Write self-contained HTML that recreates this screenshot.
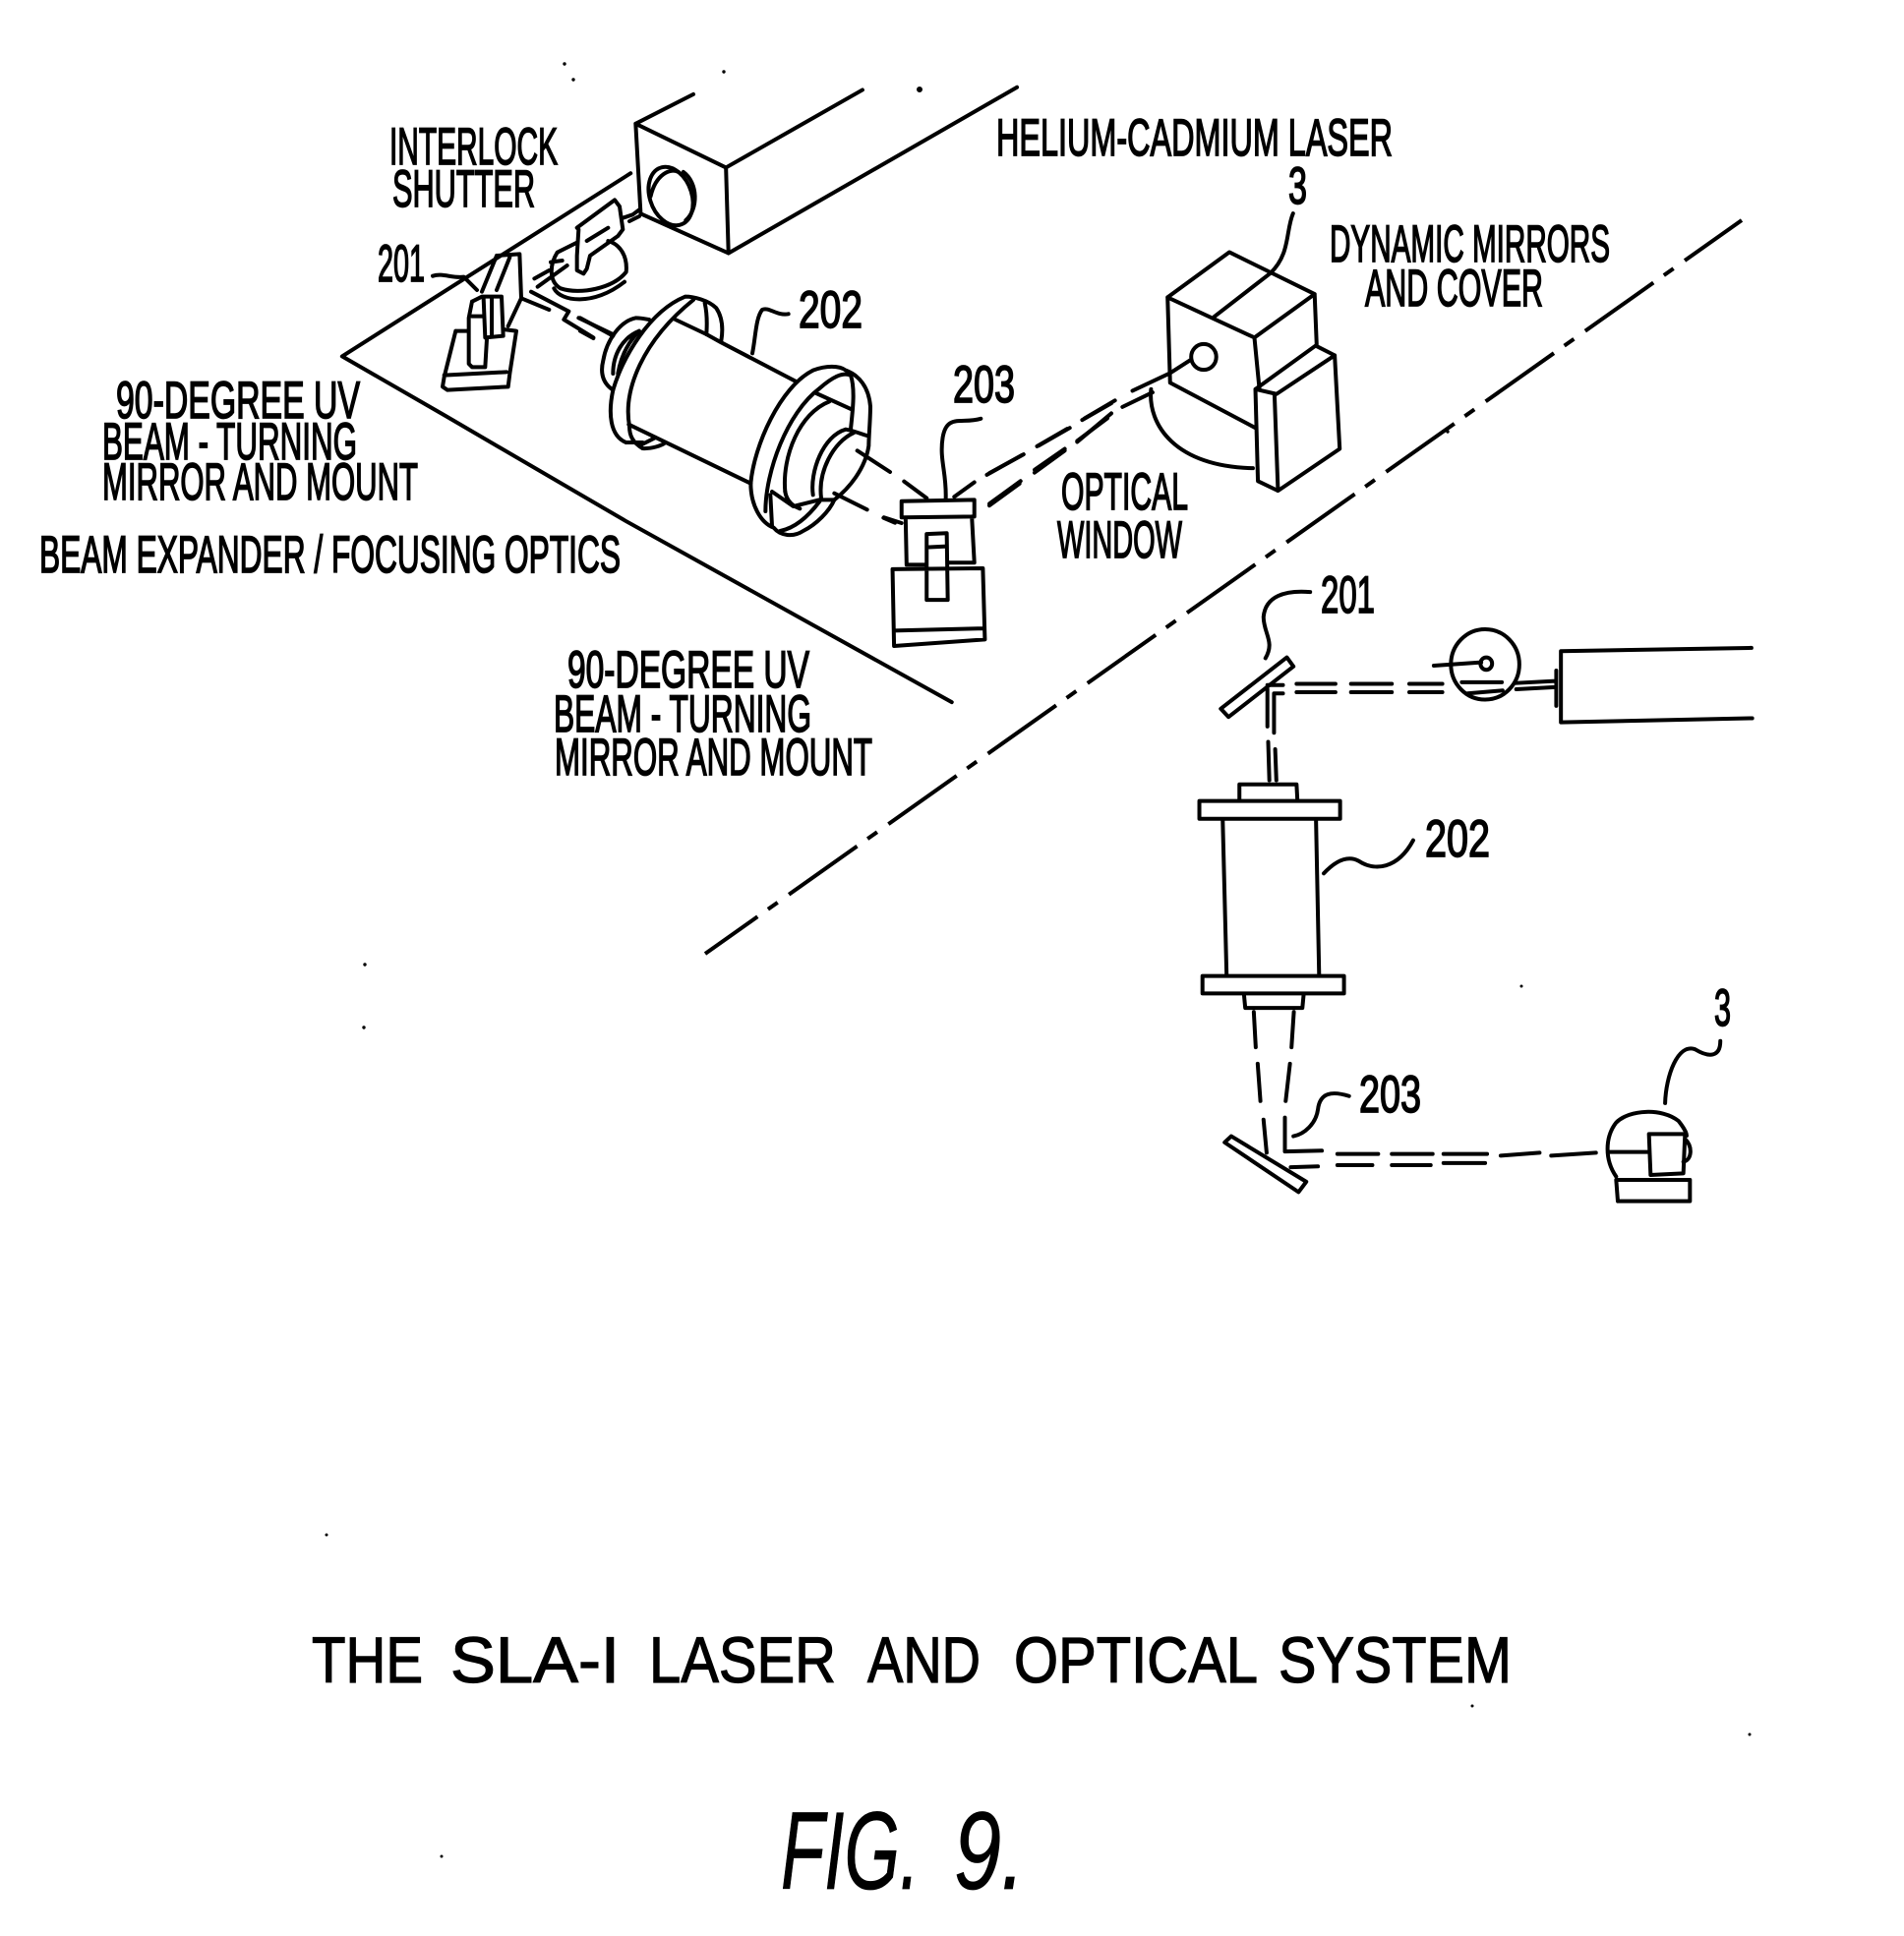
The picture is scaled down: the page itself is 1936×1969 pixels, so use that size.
<!DOCTYPE html>
<html><head><meta charset="utf-8"><style>
html,body{margin:0;padding:0;background:#fff}
svg{display:block}
path,ellipse,circle{fill:none;stroke:#000;stroke-width:4;stroke-linejoin:round;stroke-linecap:round;vector-effect:non-scaling-stroke}
text{font-family:"Liberation Sans",sans-serif;fill:#000;stroke:#000;stroke-width:1.7}
.s{font-size:53px}
.t{font-size:66px;stroke-width:1.2}
.f{font-size:112px;font-style:italic;stroke-width:.8}
.d circle{fill:#000;stroke-width:1}
</style></head><body>
<svg width="1936" height="1969" viewBox="0 0 1936 1969" xmlns="http://www.w3.org/2000/svg">
<g transform="translate(330,70) scale(.5102,.4464)">
<path d="M610 238L35 655L240 790L600 1030L1250 1443"/>
<path d="M735 58L620 125L800 225L805 420L630 330L620 125M800 225L1072 48M805 420L1380 42"/>
<ellipse cx="690" cy="290" rx="42" ry="68" transform="rotate(-15 690 290)"/>
<path d="M650 290C660 240 690 225 705 235M720 345C745 320 745 260 715 235"/>
<path d="M1065 875L1125 915M1155 940L1200 978M1015 970L1080 1005M1115 1022L1150 1035M1255 975L1295 942" style="display:none"/>
<path d="M1308 797C1270 810 1240 785 1232 840C1225 890 1240 920 1238 980"/>
<path d="M1150 985L1295 982L1295 1020L1150 1022ZM1158 1022L1160 1130M1290 1020L1295 1125M1132 1140L1312 1138L1316 1300L1135 1315ZM1135 1280L1312 1275M1200 1060L1240 1058L1242 1210L1200 1210ZM1200 1090L1240 1088M1160 1130L1200 1130M1245 1125L1295 1125"/>
<path d="M1155 940L1200 978M1115 1022L1150 1035M1255 975L1295 942M1320 925L1390 880M1420 860L1480 820M1510 800L1568 762M1325 995L1385 945M1415 920L1475 870M1500 850L1568 785"/>
</g>
<g transform="translate(590,280) scale(.33333)">
<path d="M290 135L385 180L430 205L660 325M148 455L520 635"/>
<path d="M100 350C85 420 90 490 140 510M100 350C130 250 210 110 320 65C345 65 390 75 415 100C435 130 435 170 430 200M150 460C130 350 190 200 345 75M380 85C390 130 385 170 385 180"/>
<path d="M100 350C70 330 60 300 70 260C80 200 120 140 170 130C190 130 205 135 210 135M100 300C100 240 130 190 180 170M115 300C125 240 150 200 180 170"/>
<path d="M150 460C150 490 160 510 190 528C215 530 250 520 260 510M140 510H190M190 515L230 495"/>
<path d="M0 130L100 185M0 170L40 192"/>
<path d="M520 635C530 520 610 340 710 290C750 275 790 275 810 290C850 305 880 340 885 400C885 440 880 490 880 520C870 590 820 650 775 685M520 635C520 700 550 755 590 770C610 795 650 800 680 780C720 760 760 720 775 685"/>
<path d="M565 720C565 600 630 420 730 345C770 310 800 295 825 305M625 660C615 550 670 420 760 385M720 360L830 410M825 305C840 350 830 420 825 470"/>
<path d="M710 670C700 600 740 490 810 470C840 475 870 490 880 490M735 680C725 600 770 510 835 480M585 660L650 705L730 685L775 685M625 660C630 690 650 705 670 712M580 670L585 765M610 780C660 770 700 730 730 690"/>
<path d="M845 535L945 600M775 665L875 715M925 740L960 755M635 118C600 125 575 95 555 105C535 130 535 190 525 238"/>
</g>
<g transform="translate(430,190) scale(.33333)">
<path d="M30 272C60 262 90 280 125 275L165 315"/>
<path d="M225 210L295 205L300 340L260 425M225 210L180 320M265 215L225 315M300 340L385 375"/>
<path d="M150 350L180 335H240L245 455L190 460L185 340M210 340V450M150 350L140 400V540L150 550H190L195 465M150 395H180"/>
<path d="M100 440H135M100 440L65 580L60 610L75 620L260 610L265 570L285 440L245 435M65 575L255 565"/>
<path d="M470 125L585 40L600 60L610 130L595 150L510 210L500 250L490 265L470 255V210L475 130ZM500 165L565 125M470 170L410 200C385 240 385 290 420 310C480 330 580 310 620 260C625 210 600 175 565 165M400 310C420 350 520 365 615 290M340 280L385 255M350 305L440 240M390 230L425 225M610 95L640 85L660 70M630 105L660 90"/>
<path d="M330 320L445 380L430 405L520 460M475 400L580 450"/>
</g>
<g transform="translate(1001,104) scale(.5102,.3279)">
<path d="M365 605L488 465L658 595L538 730ZM570 530L458 665M615 345C600 400 610 470 570 530M365 605L370 870L540 1010M538 730L548 890M658 595L662 750"/>
<path d="M540 890L660 755L698 785L582 905ZM698 785L708 1075L585 1205L545 1175L540 890M578 905L585 1205"/>
<ellipse cx="437" cy="790" rx="25" ry="40"/>
<path d="M332 890C325 1000 380 1130 535 1135M370 840L410 800M295 895L370 840M200 980L260 925M108 1065L170 1010M10 1150L78 1092M335 900L275 945M245 980L185 1050M160 1075L100 1140M72 1175L10 1245"/>
</g>
<path d="M1771 224L717 970" stroke-dasharray="85 14 12 13" stroke-dashoffset="14" style="stroke-linecap:butt"/>
<g transform="translate(1180,560) scale(.3953,.4209)">
<path d="M155 382L325 258L342 280L175 402ZM385 100C320 95 270 110 265 160C265 200 295 220 270 260"/>
<path d="M350 322H450M350 342H450M490 322H595M490 342H595M640 322H725M640 342H725M275 325H315M292 345H315M275 335V425M292 345V440M277 462L280 555M295 480L298 555"/>
<ellipse cx="835" cy="275" rx="88" ry="85"/><circle cx="838" cy="273" r="15"/>
<path d="M703 278L825 270M775 318H878M790 345L880 338M915 320L1015 315M915 335L1015 330M1520 235L1030 243L1030 415L1522 405M1018 290V375"/>
<path d="M203 600V565H350L352 600M100 605H462V648H100ZM160 650L170 1025M400 650L408 1025M108 1028H472V1070H108ZM215 1075L218 1105H365L368 1075M240 1115L245 1200M343 1115L337 1200M250 1240L257 1330M333 1240L322 1330M265 1375L273 1455M320 1370V1452L415 1450M335 1490L405 1488"/>
<path d="M455 1458H560M595 1458H700M728 1458H840M875 1462L975 1455M1005 1462L1120 1455M455 1485H545M595 1485H695M728 1480H835"/>
<path d="M165 1430L182 1415L375 1525L355 1550ZM485 1318C440 1305 410 1310 405 1350C400 1385 370 1410 342 1415M420 780C450 750 480 735 510 750C550 775 610 770 650 700"/>
<path d="M1298 1335C1300 1270 1330 1190 1375 1205C1410 1225 1440 1225 1440 1185"/>
</g>
<g transform="translate(1600,1100) scale(.33333)">
<path d="M130 290C95 240 95 170 130 125C170 85 270 80 320 120C340 145 345 160 345 165M230 160H340L335 280L235 285ZM105 215H230M130 300H355V365H135ZM340 175C365 200 360 240 335 245"/>
</g>
<text class="s" x="396" y="167" textLength="171" lengthAdjust="spacingAndGlyphs">INTERLOCK</text>
<text class="s" x="399" y="210" textLength="145" lengthAdjust="spacingAndGlyphs">SHUTTER</text>
<text class="s" x="1013" y="158" textLength="403" lengthAdjust="spacingAndGlyphs">HELIUM-CADMIUM LASER</text>
<text class="s" x="1310" y="207" textLength="19" lengthAdjust="spacingAndGlyphs">3</text>
<text class="s" x="1352" y="266" textLength="285" lengthAdjust="spacingAndGlyphs">DYNAMIC MIRRORS</text>
<text class="s" x="1388" y="311" textLength="181" lengthAdjust="spacingAndGlyphs">AND COVER</text>
<text class="s" x="1079" y="518" textLength="129" lengthAdjust="spacingAndGlyphs">OPTICAL</text>
<text class="s" x="1075" y="567" textLength="127" lengthAdjust="spacingAndGlyphs">WINDOW</text>
<text class="s" x="384" y="286" textLength="48" lengthAdjust="spacingAndGlyphs">201</text>
<text class="s" x="812" y="333" textLength="65" lengthAdjust="spacingAndGlyphs">202</text>
<text class="s" x="969" y="409" textLength="63" lengthAdjust="spacingAndGlyphs">203</text>
<text class="s" x="118" y="425" textLength="248" lengthAdjust="spacingAndGlyphs">90-DEGREE UV</text>
<text class="s" x="104" y="467" textLength="259" lengthAdjust="spacingAndGlyphs">BEAM - TURNING</text>
<text class="s" x="104" y="508" textLength="321" lengthAdjust="spacingAndGlyphs">MIRROR AND MOUNT</text>
<text class="s" x="40" y="582" textLength="591" lengthAdjust="spacingAndGlyphs">BEAM EXPANDER / FOCUSING OPTICS</text>
<text class="s" x="577" y="699" textLength="246" lengthAdjust="spacingAndGlyphs">90-DEGREE UV</text>
<text class="s" x="563" y="744" textLength="262" lengthAdjust="spacingAndGlyphs">BEAM - TURNING</text>
<text class="s" x="564" y="788" textLength="323" lengthAdjust="spacingAndGlyphs">MIRROR AND MOUNT</text>
<text class="s" x="1343" y="623" textLength="55" lengthAdjust="spacingAndGlyphs">201</text>
<text class="s" x="1449" y="871" textLength="66" lengthAdjust="spacingAndGlyphs">202</text>
<text class="s" x="1382" y="1131" textLength="63" lengthAdjust="spacingAndGlyphs">203</text>
<text class="s" x="1743" y="1043" textLength="17" lengthAdjust="spacingAndGlyphs">3</text>
<text class="t" x="317" y="1711" textLength="113" lengthAdjust="spacingAndGlyphs">THE</text>
<text class="t" x="458" y="1711" textLength="172" lengthAdjust="spacingAndGlyphs">SLA-I</text>
<text class="t" x="660" y="1711" textLength="190" lengthAdjust="spacingAndGlyphs">LASER</text>
<text class="t" x="882" y="1711" textLength="115" lengthAdjust="spacingAndGlyphs">AND</text>
<text class="t" x="1031" y="1711" textLength="248" lengthAdjust="spacingAndGlyphs">OPTICAL</text>
<text class="t" x="1300" y="1711" textLength="237" lengthAdjust="spacingAndGlyphs">SYSTEM</text>
<text class="f" x="794" y="1921" textLength="141" lengthAdjust="spacingAndGlyphs">FIG.</text>
<text class="f" x="970" y="1921" textLength="72" lengthAdjust="spacingAndGlyphs">9.</text>
<g class="d">
<circle cx="574" cy="65" r="1.2"/><circle cx="583" cy="81" r="1.2"/><circle cx="736" cy="73" r="1.2"/><circle cx="935" cy="91" r="2.5"/><circle cx="371" cy="981" r="1.2"/><circle cx="370" cy="1045" r="1.2"/><circle cx="1547" cy="1003" r="1"/><circle cx="332" cy="1561" r="1"/><circle cx="1497" cy="1735" r="1"/><circle cx="1779" cy="1764" r="1"/><circle cx="449" cy="1888" r="1"/><circle cx="1472" cy="439" r="1.2"/>
</g>
</svg>
</body></html>
